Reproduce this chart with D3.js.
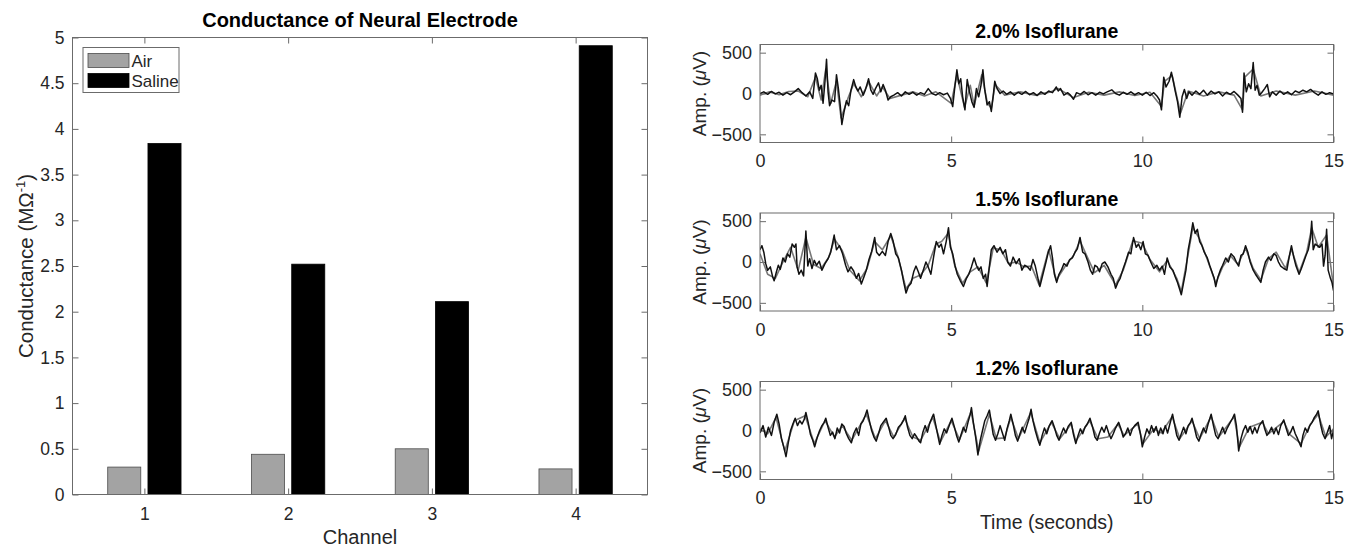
<!DOCTYPE html>
<html>
<head>
<meta charset="utf-8">
<script src="https://d3js.org/d3.v7.min.js"></script>
<style>
  body { margin: 0; background: #fff; }
  svg { display: block; font-family: "Liberation Sans", Arial, Helvetica, sans-serif; }
  .tick text { fill: #262626; }
  .tick line { stroke: #6b6b6b; }
  .frame { fill: none; stroke: #6b6b6b; stroke-width: 1; }
</style>
</head>
<body>
<script>
//wrap everything in a self-executing anonymous function
(function(){

  //bar chart data
  var channels = [1, 2, 3, 4];
  var airValues = [0.30, 0.44, 0.50, 0.28];
  var salineValues = [3.84, 2.52, 2.11, 4.91];
  var conductanceTicks = [0, 0.5, 1, 1.5, 2, 2.5, 3, 3.5, 4, 4.5, 5];
  var seriesNames = ["Air", "Saline"];

  //eeg panel data
  var panelTitles = ["2.0% Isoflurane", "1.5% Isoflurane", "1.2% Isoflurane"];
  var timeTicks = [0, 5, 10, 15];
  var ampTicks = [-500, 0, 500];

  //2.0% isoflurane traces, [seconds, microvolts]
  var iso20Black = [[0,0],[0.1,20],[0.2,-10],[0.3,25],[0.4,-5],[0.5,15],[0.6,-20],[0.7,10],[0.8,-15],[0.9,20],[1.0,60],[1.1,10],[1.2,-30],[1.3,20],[1.38,-60],[1.45,250],[1.5,180],[1.55,40],[1.6,100],[1.65,-120],[1.7,150],[1.74,420],[1.78,20],[1.82,-150],[1.88,-80],[1.95,-100],[2.0,230],[2.05,60],[2.1,-150],[2.14,-380],[2.2,-220],[2.26,-90],[2.32,-150],[2.38,40],[2.45,170],[2.5,90],[2.56,30],[2.62,80],[2.7,-20],[2.76,50],[2.84,180],[2.9,40],[2.96,-10],[3.02,60],[3.1,130],[3.16,20],[3.22,110],[3.28,40],[3.35,-80],[3.42,-40],[3.5,-20],[3.6,10],[3.7,-30],[3.8,20],[3.9,-10],[4.0,15],[4.1,-20],[4.2,10],[4.3,-10],[4.4,60],[4.5,0],[4.6,-20],[4.7,10],[4.8,-15],[4.9,5],[4.98,-60],[5.04,-160],[5.1,100],[5.15,290],[5.2,120],[5.25,180],[5.3,-40],[5.36,-200],[5.42,170],[5.48,20],[5.54,-100],[5.6,-170],[5.66,60],[5.72,-40],[5.78,100],[5.83,290],[5.88,40],[5.94,-140],[6.0,-100],[6.05,-220],[6.1,-30],[6.14,150],[6.2,60],[6.28,0],[6.36,30],[6.45,-10],[6.55,20],[6.65,-20],[6.75,15],[6.85,-10],[6.95,25],[7.05,-15],[7.15,10],[7.25,-25],[7.35,20],[7.45,-10],[7.55,30],[7.65,10],[7.75,80],[7.8,30],[7.86,60],[7.95,-20],[8.05,10],[8.12,-20],[8.2,-70],[8.28,10],[8.38,-10],[8.48,25],[8.58,-15],[8.68,10],[8.78,-20],[8.88,15],[8.98,-5],[9.08,20],[9.2,45],[9.3,0],[9.4,-20],[9.5,15],[9.6,-10],[9.7,20],[9.8,-15],[9.9,10],[10.0,-20],[10.1,15],[10.2,-25],[10.3,10],[10.38,-30],[10.45,-80],[10.5,-200],[10.56,200],[10.62,80],[10.7,150],[10.76,260],[10.81,150],[10.86,30],[10.92,-100],[10.98,-290],[11.04,-40],[11.1,50],[11.16,-60],[11.22,20],[11.3,-20],[11.4,30],[11.5,-10],[11.6,40],[11.7,-20],[11.8,30],[11.9,-5],[12.0,20],[12.1,-30],[12.2,15],[12.3,-10],[12.4,25],[12.5,-20],[12.58,-60],[12.62,-230],[12.66,250],[12.72,20],[12.78,120],[12.84,60],[12.9,380],[12.95,40],[13.0,100],[13.06,-20],[13.12,10],[13.2,60],[13.27,110],[13.33,-40],[13.4,20],[13.5,-20],[13.6,30],[13.7,-10],[13.8,20],[13.9,-15],[14.0,30],[14.1,10],[14.2,40],[14.3,20],[14.4,50],[14.5,10],[14.6,-20],[14.7,20],[14.8,-10],[14.9,10],[15.0,-5]];
  var iso20Gray = [[0,-20],[0.25,20],[0.5,-15],[0.75,25],[1.0,30],[1.25,-40],[1.45,200],[1.6,-80],[1.72,300],[1.85,-120],[2.0,150],[2.12,-300],[2.3,-60],[2.45,120],[2.65,-40],[2.85,140],[3.05,-30],[3.2,80],[3.4,-60],[3.7,-20],[4.0,20],[4.3,-30],[4.6,20],[5.0,-120],[5.15,220],[5.35,-170],[5.5,100],[5.6,-150],[5.8,230],[5.95,-120],[6.05,-180],[6.15,110],[6.4,-20],[6.8,20],[7.2,-20],[7.6,20],[7.8,60],[8.2,-50],[8.6,15],[9.0,-20],[9.4,20],[9.8,-25],[10.2,15],[10.5,-160],[10.58,150],[10.78,220],[11.0,-240],[11.2,30],[11.6,-30],[12.0,20],[12.4,-20],[12.62,-200],[12.68,200],[12.9,300],[13.1,-30],[13.5,30],[14.0,-20],[14.5,30],[15,-20]];

  //1.5% isoflurane traces
  var iso15Black = [[0,150],[0.05,200],[0.1,120],[0.15,-20],[0.2,-100],[0.27,-60],[0.33,-180],[0.37,-230],[0.43,-120],[0.48,-40],[0.53,-90],[0.6,50],[0.66,0],[0.72,100],[0.78,60],[0.84,220],[0.9,180],[0.94,220],[0.97,-60],[1.02,-150],[1.08,-100],[1.14,-170],[1.2,380],[1.25,-50],[1.3,40],[1.36,-80],[1.42,20],[1.48,-40],[1.55,10],[1.62,-100],[1.7,-20],[1.78,40],[1.85,120],[1.94,330],[2.0,150],[2.08,200],[2.16,100],[2.24,-40],[2.3,-120],[2.38,-60],[2.45,-110],[2.52,-200],[2.58,-140],[2.65,-270],[2.72,-180],[2.78,-100],[2.85,30],[2.92,130],[3.0,300],[3.05,120],[3.12,80],[3.2,130],[3.28,80],[3.35,250],[3.42,350],[3.48,260],[3.55,100],[3.62,50],[3.7,-100],[3.76,-250],[3.82,-380],[3.88,-300],[3.95,-260],[4.02,-120],[4.08,-50],[4.14,-120],[4.2,-200],[4.27,-100],[4.34,0],[4.4,-60],[4.47,-150],[4.54,60],[4.61,250],[4.68,180],[4.74,220],[4.8,100],[4.87,250],[4.93,420],[4.98,180],[5.04,100],[5.1,-40],[5.16,-150],[5.24,-230],[5.32,-300],[5.4,-200],[5.46,-150],[5.53,-60],[5.6,50],[5.66,-40],[5.72,-100],[5.78,-60],[5.84,-200],[5.9,-150],[5.94,-300],[6.0,-50],[6.05,150],[6.12,200],[6.2,120],[6.28,180],[6.35,100],[6.42,150],[6.48,0],[6.55,-50],[6.62,60],[6.7,-20],[6.78,40],[6.85,-100],[6.92,-40],[7.0,-60],[7.07,-100],[7.14,30],[7.2,-50],[7.27,-200],[7.32,-300],[7.4,-150],[7.48,0],[7.54,120],[7.6,200],[7.65,50],[7.7,-150],[7.76,-250],[7.82,-150],[7.88,-100],[7.95,-20],[8.03,-50],[8.1,30],[8.17,50],[8.24,120],[8.3,160],[8.37,300],[8.44,120],[8.5,100],[8.58,0],[8.64,-100],[8.7,-150],[8.76,-40],[8.82,-60],[8.88,-120],[8.95,-20],[9.02,0],[9.1,-60],[9.18,-150],[9.24,-200],[9.3,-320],[9.36,-250],[9.42,-200],[9.5,-80],[9.56,0],[9.64,120],[9.7,100],[9.77,300],[9.84,180],[9.9,220],[9.96,150],[10.02,250],[10.08,100],[10.15,80],[10.22,0],[10.3,-80],[10.38,-40],[10.45,-100],[10.52,-50],[10.58,-150],[10.65,50],[10.72,-60],[10.8,-100],[10.86,-180],[10.92,-250],[10.98,-340],[11.02,-400],[11.08,-250],[11.14,-100],[11.2,150],[11.26,300],[11.32,480],[11.38,350],[11.44,400],[11.5,250],[11.56,200],[11.62,120],[11.7,50],[11.76,-40],[11.82,-120],[11.88,-200],[11.92,-300],[11.98,-180],[12.04,-100],[12.1,-40],[12.18,50],[12.25,0],[12.32,100],[12.4,60],[12.46,0],[12.52,-50],[12.58,80],[12.64,100],[12.7,200],[12.76,120],[12.82,0],[12.9,-100],[12.96,-150],[13.03,-200],[13.1,-250],[13.16,-100],[13.22,0],[13.3,60],[13.36,20],[13.44,100],[13.5,80],[13.56,0],[13.62,-50],[13.7,-80],[13.78,-100],[13.84,60],[13.9,200],[13.96,60],[14.02,-50],[14.1,-150],[14.16,-80],[14.22,0],[14.28,80],[14.34,150],[14.4,300],[14.43,500],[14.47,150],[14.52,220],[14.58,200],[14.64,180],[14.7,220],[14.74,-50],[14.78,80],[14.82,400],[14.86,-100],[14.92,-200],[14.96,-250],[15,-350]];
  var iso15Gray = [[0,100],[0.2,-150],[0.4,-200],[0.6,0],[0.8,180],[1.0,-100],[1.2,300],[1.4,-30],[1.6,-80],[1.8,60],[1.95,280],[2.15,140],[2.35,-100],[2.6,-230],[2.8,-80],[3.0,250],[3.2,150],[3.42,320],[3.6,80],[3.82,-330],[4.0,-200],[4.2,-160],[4.4,-40],[4.6,220],[4.75,250],[4.92,350],[5.1,-60],[5.3,-260],[5.5,-120],[5.7,-60],[5.92,-260],[6.1,170],[6.3,150],[6.5,-20],[6.7,0],[6.9,-60],[7.1,-50],[7.3,-280],[7.55,150],[7.75,-220],[8.0,-40],[8.2,80],[8.37,260],[8.6,20],[8.75,-130],[9.0,-40],[9.3,-280],[9.5,-100],[9.75,260],[10.0,230],[10.2,30],[10.45,-120],[10.65,20],[10.9,-200],[11.02,-360],[11.2,100],[11.32,420],[11.5,280],[11.7,30],[11.92,-260],[12.1,-60],[12.3,80],[12.5,-30],[12.7,170],[12.9,-80],[13.1,-220],[13.3,40],[13.5,120],[13.75,-80],[13.9,160],[14.1,-130],[14.3,120],[14.43,420],[14.6,180],[14.82,330],[15,-300]];

  //1.2% isoflurane traces
  var iso12Black = [[0,-30],[0.08,60],[0.15,-80],[0.22,40],[0.3,-60],[0.37,100],[0.44,200],[0.5,80],[0.56,-100],[0.62,-200],[0.68,-320],[0.74,-150],[0.8,0],[0.86,80],[0.92,150],[0.98,60],[1.04,120],[1.1,80],[1.16,140],[1.2,220],[1.26,100],[1.32,-50],[1.38,-120],[1.43,-200],[1.5,-80],[1.56,0],[1.62,60],[1.68,100],[1.72,150],[1.78,40],[1.84,-60],[1.9,-20],[1.96,-100],[2.02,30],[2.08,-30],[2.14,80],[2.2,50],[2.26,-40],[2.32,-100],[2.39,-150],[2.45,-40],[2.52,30],[2.58,-60],[2.64,80],[2.7,120],[2.75,180],[2.8,250],[2.86,120],[2.92,0],[2.98,-80],[3.04,-130],[3.1,-40],[3.16,60],[3.22,100],[3.3,150],[3.36,50],[3.42,-60],[3.48,-100],[3.55,-50],[3.62,40],[3.7,80],[3.76,130],[3.8,180],[3.86,40],[3.92,-60],[3.98,-100],[4.04,-40],[4.1,-80],[4.16,-130],[4.2,-150],[4.26,-20],[4.32,60],[4.38,-20],[4.44,90],[4.5,160],[4.54,200],[4.6,60],[4.66,-80],[4.7,-170],[4.76,-60],[4.82,20],[4.88,-30],[4.95,60],[5.02,150],[5.08,50],[5.14,-60],[5.2,-140],[5.26,-50],[5.32,40],[5.38,-20],[5.44,100],[5.5,200],[5.53,280],[5.58,100],[5.64,-80],[5.7,-300],[5.76,-120],[5.82,0],[5.88,120],[5.94,180],[6.0,250],[6.05,100],[6.1,-50],[6.16,-120],[6.22,-40],[6.28,60],[6.34,-30],[6.4,-120],[6.46,20],[6.52,120],[6.56,200],[6.62,80],[6.68,-60],[6.74,-130],[6.8,-40],[6.86,40],[6.92,-30],[6.98,60],[7.04,150],[7.09,260],[7.14,120],[7.2,0],[7.26,-100],[7.32,-180],[7.38,-60],[7.44,30],[7.5,-40],[7.56,50],[7.64,120],[7.7,40],[7.76,-60],[7.82,-120],[7.88,-40],[7.94,30],[8.0,-30],[8.06,50],[8.14,100],[8.2,-50],[8.26,-160],[8.32,-60],[8.38,20],[8.44,-40],[8.5,40],[8.56,80],[8.63,150],[8.7,40],[8.76,-80],[8.82,-120],[8.88,-30],[8.94,40],[9.0,-20],[9.06,60],[9.12,-30],[9.18,-100],[9.24,-40],[9.3,30],[9.38,100],[9.44,20],[9.5,-80],[9.56,-40],[9.62,30],[9.68,-60],[9.74,20],[9.8,60],[9.89,100],[9.95,-40],[10.0,-200],[10.06,-80],[10.12,20],[10.18,-40],[10.24,60],[10.3,-20],[10.36,50],[10.42,-60],[10.48,30],[10.54,-40],[10.6,60],[10.66,-30],[10.72,80],[10.79,200],[10.84,80],[10.9,-60],[10.96,-120],[11.02,-40],[11.08,40],[11.14,-40],[11.2,60],[11.26,100],[11.3,150],[11.36,40],[11.42,-80],[11.48,-130],[11.54,-40],[11.6,30],[11.66,-30],[11.72,80],[11.8,200],[11.86,60],[11.92,-60],[11.98,-100],[12.04,-30],[12.1,40],[12.16,-40],[12.22,30],[12.3,100],[12.36,150],[12.41,200],[12.46,60],[12.52,-250],[12.58,-100],[12.64,0],[12.7,60],[12.76,-20],[12.82,50],[12.88,-40],[12.94,40],[13.0,-30],[13.06,60],[13.15,120],[13.2,20],[13.26,-60],[13.32,-20],[13.38,40],[13.44,-40],[13.5,30],[13.56,-50],[13.62,60],[13.7,130],[13.76,30],[13.82,-60],[13.88,-20],[13.94,50],[14.0,-40],[14.06,-100],[14.15,-200],[14.2,-60],[14.26,30],[14.32,-20],[14.38,60],[14.44,100],[14.5,160],[14.56,200],[14.6,240],[14.66,80],[14.72,-40],[14.78,-100],[14.84,-20],[14.9,60],[14.95,-100],[15,0]];
  var iso12Gray = [[0,20],[0.2,-40],[0.42,160],[0.65,-250],[0.9,120],[1.18,180],[1.42,-160],[1.7,120],[1.95,-80],[2.15,60],[2.4,-120],[2.78,200],[3.02,-100],[3.28,120],[3.5,-80],[3.78,150],[4.0,-80],[4.2,-120],[4.52,160],[4.72,-140],[5.0,120],[5.22,-110],[5.52,230],[5.72,-250],[6.0,200],[6.18,-100],[6.4,-90],[6.56,160],[6.76,-100],[7.08,220],[7.32,-150],[7.62,100],[7.84,-100],[8.14,80],[8.26,-130],[8.62,120],[8.84,-100],[9.1,-80],[9.36,80],[9.52,-60],[9.88,80],[10.02,-160],[10.3,20],[10.5,-30],[10.78,170],[10.98,-100],[11.3,120],[11.5,-100],[11.8,170],[12.0,-80],[12.4,170],[12.54,-200],[12.8,40],[13.14,100],[13.3,-40],[13.7,110],[13.86,-50],[14.15,-160],[14.4,80],[14.6,200],[14.8,-80],[15,20]];

  var panelTraces = [[iso20Gray, iso20Black], [iso15Gray, iso15Black], [iso12Gray, iso12Black]];

  //frame dimensions
  var width = 1358,
      height = 551,
      tickLen = 6;

  var svg = d3.select("body")
      .append("svg")
      .attr("width", width)
      .attr("height", height);

  setBarChart();
  setPanels();

  function setBarChart(){
    var left = 72.5, right = 647.5, top = 37.5, bottom = 494.5;

    var x = d3.scaleLinear().domain([0.5, 4.5]).range([left, right]);
    var y = d3.scaleLinear().domain([0, 5]).range([bottom, top]);

    var chart = svg.append("g").attr("class", "barChart");

    //axes with inward ticks on all four sides
    chart.append("g")
        .attr("transform", "translate(" + left + ",0)")
        .call(d3.axisLeft(y).tickValues(conductanceTicks).tickSize(-tickLen).tickPadding(8).tickFormat(d3.format("")))
        .call(styleAxis, 17.5);
    chart.append("g")
        .attr("transform", "translate(" + right + ",0)")
        .call(d3.axisRight(y).tickValues(conductanceTicks).tickSize(-tickLen).tickFormat(""))
        .call(styleAxis, 17.5);
    chart.append("g")
        .attr("transform", "translate(0," + bottom + ")")
        .call(d3.axisBottom(x).tickValues(channels).tickSize(-tickLen).tickPadding(13).tickFormat(d3.format("d")))
        .call(styleAxis, 17.5);
    chart.append("g")
        .attr("transform", "translate(0," + top + ")")
        .call(d3.axisTop(x).tickValues(channels).tickSize(-tickLen).tickFormat(""))
        .call(styleAxis, 17.5);

    //grouped bars
    var barW = x(0.23) - x(0);
    var series = [
      {name: "Air", values: airValues, offset: -0.14, fill: "#a3a3a3", stroke: "#4d4d4d"},
      {name: "Saline", values: salineValues, offset: 0.14, fill: "#000", stroke: "#000"}
    ];

    series.forEach(function(s){
      chart.selectAll(".bar" + s.name)
          .data(channels)
          .enter()
          .append("rect")
          .attr("class", "bar" + s.name)
          .attr("x", function(d){ return x(d + s.offset) - barW / 2; })
          .attr("width", barW)
          .attr("y", function(d, i){ return y(s.values[i]); })
          .attr("height", function(d, i){ return y(0) - y(s.values[i]); })
          .style("fill", s.fill)
          .style("stroke", s.stroke)
          .style("stroke-width", 0.8);
    });

    //box
    chart.append("rect")
        .attr("class", "frame")
        .attr("x", left).attr("y", top)
        .attr("width", right - left).attr("height", bottom - top);

    //legend
    var legend = chart.append("g").attr("transform", "translate(83,47.5)");
    legend.append("rect")
        .attr("width", 96).attr("height", 45)
        .style("fill", "#fff").style("stroke", "#6b6b6b");
    series.forEach(function(s, i){
      legend.append("rect")
          .attr("x", 5).attr("y", 6 + i * 20)
          .attr("width", 41).attr("height", 14)
          .style("fill", s.fill).style("stroke", s.stroke).style("stroke-width", 0.8);
      legend.append("text")
          .attr("x", 48.5).attr("y", 13 + i * 20)
          .attr("dy", "0.36em")
          .style("font-size", "17px").style("fill", "#262626")
          .text(seriesNames[i]);
    });

    //title and axis labels
    chart.append("text")
        .attr("x", (left + right) / 2).attr("y", 27)
        .attr("text-anchor", "middle")
        .style("font-size", "20px").style("font-weight", "bold").style("fill", "#000")
        .text("Conductance of Neural Electrode");

    chart.append("text")
        .attr("x", (left + right) / 2).attr("y", 544)
        .attr("text-anchor", "middle")
        .style("font-size", "20px").style("fill", "#262626")
        .text("Channel");

    var yLabel = chart.append("text")
        .attr("transform", "translate(33," + (top + bottom) / 2 + ") rotate(-90)")
        .attr("text-anchor", "middle")
        .style("font-size", "20.5px").style("fill", "#262626");
    yLabel.append("tspan").text("Conductance (M\u03A9");
    yLabel.append("tspan").attr("dy", -8).style("font-size", "13px").text("-1");
    yLabel.append("tspan").attr("dy", 8).text(")");
  }

  function setPanels(){
    var left = 760, right = 1333.5, panelH = 98;
    var panelTops = [44.5, 213, 381.5];

    var x = d3.scaleLinear().domain([0, 15]).range([left, right]);

    panelTitles.forEach(function(title, p){
      var top = panelTops[p], bottom = top + panelH;
      var y = d3.scaleLinear().domain([-600, 600]).range([bottom, top]);
      var g = svg.append("g").attr("class", "panel");

      g.append("g")
          .attr("transform", "translate(" + left + ",0)")
          .call(d3.axisLeft(y).tickValues(ampTicks).tickSize(-tickLen).tickPadding(8))
          .call(styleAxis, 18);
      g.append("g")
          .attr("transform", "translate(" + right + ",0)")
          .call(d3.axisRight(y).tickValues(ampTicks).tickSize(-tickLen).tickFormat(""))
          .call(styleAxis, 18);
      g.append("g")
          .attr("transform", "translate(0," + bottom + ")")
          .call(d3.axisBottom(x).tickValues(timeTicks).tickSize(-tickLen).tickPadding(12))
          .call(styleAxis, 18);
      g.append("g")
          .attr("transform", "translate(0," + top + ")")
          .call(d3.axisTop(x).tickValues(timeTicks).tickSize(-tickLen).tickFormat(""))
          .call(styleAxis, 18);

      //clip traces to the axes box
      svg.append("clipPath")
          .attr("id", "clip" + p)
          .append("rect")
          .attr("x", left).attr("y", top)
          .attr("width", right - left).attr("height", panelH);

      var line = d3.line()
          .x(function(d){ return x(d[0]); })
          .y(function(d){ return y(d[1]); });

      var traces = g.append("g").attr("clip-path", "url(#clip" + p + ")");
      traces.append("path")
          .datum(panelTraces[p][0])
          .attr("d", line)
          .style("fill", "none").style("stroke", "#777").style("stroke-width", 1.6)
          .style("stroke-linejoin", "round");
      traces.append("path")
          .datum(panelTraces[p][1])
          .attr("d", line)
          .style("fill", "none").style("stroke", "#111").style("stroke-width", 1.5)
          .style("stroke-linejoin", "round");

      g.append("rect")
          .attr("class", "frame")
          .attr("x", left).attr("y", top)
          .attr("width", right - left).attr("height", panelH);

      g.append("text")
          .attr("x", (left + right) / 2).attr("y", top - 7)
          .attr("text-anchor", "middle")
          .style("font-size", "19.5px").style("font-weight", "bold").style("fill", "#000")
          .text(title);

      var yLabel = g.append("text")
          .attr("transform", "translate(706," + (top + bottom) / 2 + ") rotate(-90)")
          .attr("text-anchor", "middle")
          .style("font-size", "19px").style("fill", "#262626");
      yLabel.append("tspan").text("Amp. (");
      yLabel.append("tspan").style("font-style", "italic").text("\u03BC");
      yLabel.append("tspan").text("V)");
    });

    svg.append("text")
        .attr("x", (left + right) / 2).attr("y", 529)
        .attr("text-anchor", "middle")
        .style("font-size", "19.5px").style("fill", "#262626")
        .text("Time (seconds)");
  }

  function styleAxis(axis, fontSize){
    axis.select(".domain").remove();
    axis.selectAll(".tick text")
        .style("font-size", fontSize + "px")
        .style("font-family", "\"Liberation Sans\", Arial, sans-serif");
  }

})();
</script>
</body>
</html>
